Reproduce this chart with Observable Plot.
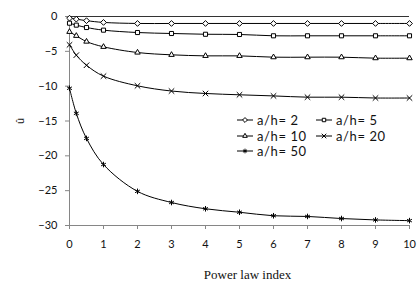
<!DOCTYPE html>
<html>
<head>
<meta charset="utf-8">
<script src="https://cdn.jsdelivr.net/npm/d3@7"></script>
<script src="https://cdn.jsdelivr.net/npm/@observablehq/plot@0.6"></script>
<style>
  html, body { margin: 0; padding: 0; background: #fff; }
  #wrap { position: relative; width: 417px; height: 288px; }
  #legend { position: absolute; left: 0; top: 0; pointer-events: none; }
</style>
</head>
<body>
<div id="wrap"></div>
<script>
// Data
const powerIndex = [0, 0.2, 0.5, 1, 2, 3, 4, 5, 6, 7, 8, 9, 10];
const ah2  = [-0.24, -0.38, -0.6, -0.85, -1.0, -1.0, -1.0, -1.0, -1.0, -1.0, -1.0, -1.0, -1.0];
const ah5  = [-0.96, -1.24, -1.58, -1.96, -2.3, -2.44, -2.55, -2.58, -2.77, -2.77, -2.77, -2.77, -2.77];
const ah10 = [-2.2, -2.77, -3.6, -4.35, -5.17, -5.5, -5.65, -5.65, -5.84, -5.84, -5.84, -5.98, -5.98];
const ah20 = [-4.07, -5.55, -7.0, -8.56, -9.95, -10.7, -11.05, -11.24, -11.4, -11.58, -11.58, -11.7, -11.7];
const ah50 = [-10.3, -13.9, -17.5, -21.25, -25.1, -26.7, -27.6, -28.1, -28.6, -28.7, -29.0, -29.2, -29.3];
const seriesNames = ["a/h= 2", "a/h= 5", "a/h= 10", "a/h= 20", "a/h= 50"];
const seriesValues = [ah2, ah5, ah10, ah20, ah50];
const seriesSymbols = ["diamond2", "square2", "triangle2", "times", "asterisk"];
const yTicks = [0, -5, -10, -15, -20, -25, -30];
const xTicks = [0, 1, 2, 3, 4, 5, 6, 7, 8, 9, 10];
const xTitle = "Power law index";
const yTitle = "û";

const rows = [];
seriesNames.forEach((name, i) => {
  powerIndex.forEach((x, j) => rows.push({series: name, symbol: seriesSymbols[i], x, y: seriesValues[i][j]}));
});

const font = "Lato, 'Liberation Sans', sans-serif";
const axisGray = "#868686";

const chart = Plot.plot({
  width: 417,
  height: 288,
  marginLeft: 69,
  marginRight: 8,
  marginTop: 16,
  marginBottom: 63,
  style: {fontFamily: font, fontSize: "11px", color: "#111", background: "#fff"},
  x: {domain: [0, 10]},
  y: {domain: [-30, 0]},
  symbol: {domain: seriesNames, range: seriesSymbols},
  marks: [
    Plot.ruleX([0], {stroke: axisGray, strokeWidth: 1}),
    Plot.ruleY([-30], {stroke: axisGray, strokeWidth: 1}),
    Plot.ruleY([0], {stroke: "#333", strokeWidth: 1}),
    Plot.axisY({ticks: yTicks, tickSize: 4, tickPadding: 8, stroke: axisGray,
      label: yTitle, labelAnchor: "center", labelArrow: "none", labelOffset: 53, fontSize: 11}),
    Plot.axisX({ticks: xTicks, tickSize: 4, tickPadding: 11, stroke: axisGray, label: null, fontSize: 11}),
    Plot.line(rows, {x: "x", y: "y", z: "series", curve: "catmull-rom", stroke: "#000", strokeWidth: 1}),
    Plot.dot(rows, {x: "x", y: "y", symbol: "series", r: 2.6, fill: "white", stroke: "#000", strokeWidth: 1}),
    Plot.text([xTitle], {frameAnchor: "bottom", dy: 53, dx: 8,
      fontFamily: "'Liberation Serif', 'Times New Roman', serif", fontSize: 13, fill: "#111"})
  ]
});

document.getElementById("wrap").appendChild(chart);

// Legend overlay (two columns, three rows), like the reference
const legendPos = [
  {x: 237, y: 120}, {x: 316, y: 120},
  {x: 237, y: 136}, {x: 316, y: 136},
  {x: 237, y: 151}
];
const symbolTypes = {diamond2: d3.symbolDiamond2, square2: d3.symbolSquare2, triangle2: d3.symbolTriangle2, times: d3.symbolTimes, asterisk: d3.symbolAsterisk};
const svg = d3.select("#wrap").append("svg").attr("id", "legend").attr("width", 417).attr("height", 288);
seriesNames.forEach((name, i) => {
  const p = legendPos[i];
  const g = svg.append("g").attr("transform", `translate(${p.x},${p.y})`);
  g.append("line").attr("x1", 0).attr("x2", 16).attr("y1", 0).attr("y2", 0).attr("stroke", "#000");
  g.append("path").attr("transform", "translate(8,0)")
    .attr("d", d3.symbol(symbolTypes[seriesSymbols[i]], Math.PI * 2.2 * 2.2)())
    .attr("fill", "white").attr("stroke", "#000");
  g.append("text").attr("x", 20).attr("y", 0).attr("dy", "0.35em")
    .attr("font-family", font).attr("font-size", 13).attr("letter-spacing", 0.6)
    .attr("fill", "#111").text(name);
});
</script>
</body>
</html>
